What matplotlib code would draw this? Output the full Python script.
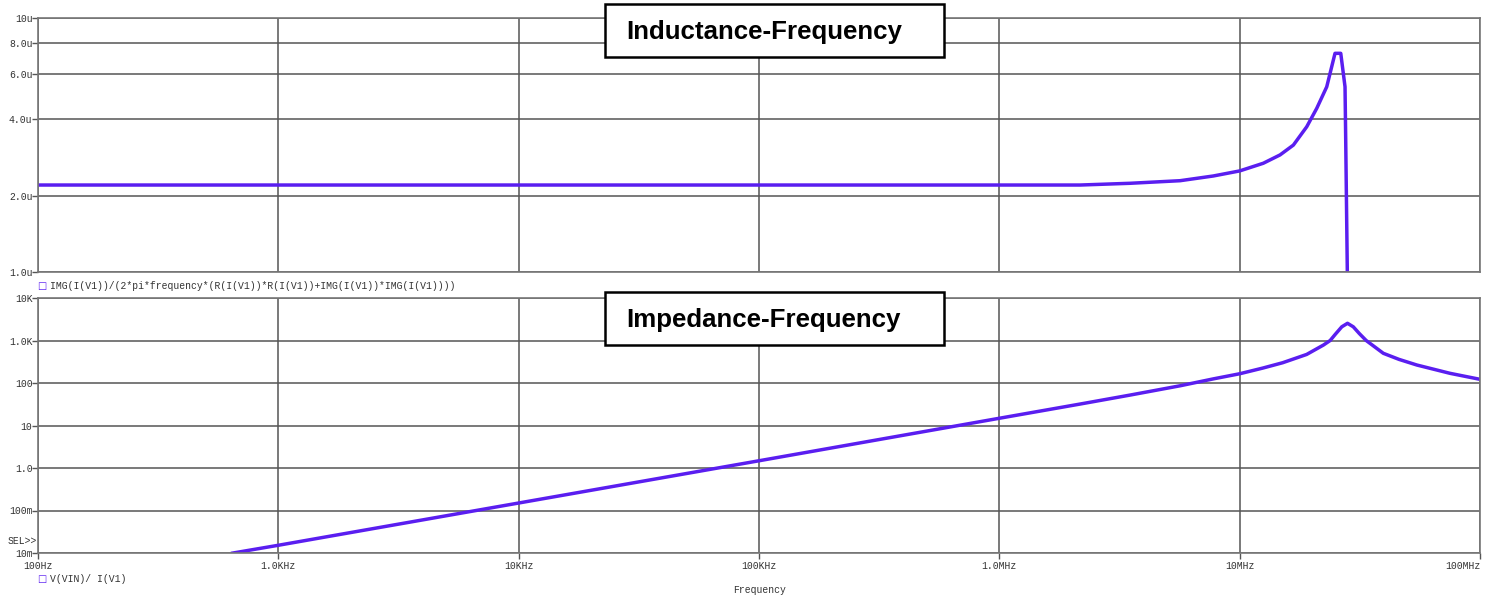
import matplotlib
matplotlib.use("Agg")
import matplotlib.pyplot as plt
from matplotlib.ticker import FixedLocator, NullLocator
from matplotlib.patches import Rectangle

# ---- data ----
ind_freq = [100, 1e3, 1e4, 1e5, 1e6, 2.17e6, 3.5e6, 5.65e6, 7.77e6, 1e7, 1.254e7,
            1.472e7, 1.673e7, 1.901e7, 2.093e7, 2.303e7, 2.493e7, 2.634e7, 2.744e7,
            2.762e7, 2.805e7]
ind_val = [2.2e-6, 2.2e-6, 2.2e-6, 2.2e-6, 2.2e-6, 2.2e-6, 2.235e-6, 2.288e-6,
           2.388e-6, 2.5e-6, 2.68e-6, 2.89e-6, 3.16e-6, 3.73e-6, 4.41e-6, 5.36e-6,
           7.26e-6, 7.26e-6, 5.36e-6, 3.31e-6, 1.0e-6]

imp_freq = [635, 1e3, 1e4, 1e5, 1e6, 2.17e6, 3.5e6, 5.65e6, 7.77e6, 1e7, 1.25e7,
            1.51e7, 1.9e7, 2.23e7, 2.38e7, 2.5e7, 2.66e7, 2.81e7, 2.97e7, 3.15e7,
            3.36e7, 3.96e7, 4.6e7, 5.46e7, 7.5e7, 1e8]
imp_val = [0.0098, 0.0152, 0.15, 1.48, 14.8, 32, 52, 86, 125, 165, 225, 300, 470,
           780, 1000, 1400, 2100, 2540, 2100, 1450, 1000, 500, 360, 265, 169, 122]

ind_ticks = [1e-6, 2e-6, 4e-6, 6e-6, 8e-6, 1e-5]
ind_ticklabels = ["1.0u", "2.0u", "4.0u", "6.0u", "8.0u", "10u"]
imp_ticks = [1e-2, 1e-1, 1, 10, 100, 1e3, 1e4]
imp_ticklabels = ["10m", "100m", "1.0", "10", "100", "1.0K", "10K"]
freq_ticks = [1e2, 1e3, 1e4, 1e5, 1e6, 1e7, 1e8]
freq_ticklabels = ["100Hz", "1.0KHz", "10KHz", "100KHz", "1.0MHz", "10MHz", "100MHz"]

title_top = "Inductance-Frequency"
title_bot = "Impedance-Frequency"
legend_top = "IMG(I(V1))/(2*pi*frequency*(R(I(V1))*R(I(V1))+IMG(I(V1))*IMG(I(V1))))"
legend_bot = "V(VIN)/ I(V1)"

# ---- styling ----
W, H = 1494, 598
LINE = "#5a1ef0"
GRID = "#555555"
MONO = "Liberation Mono"
TXT = "#333333"

fig = plt.figure(figsize=(W / 100, H / 100), dpi=100)

def px(x0, y0, x1, y1):
    return [x0 / W, 1 - y1 / H, (x1 - x0) / W, (y1 - y0) / H]

ax1 = fig.add_axes(px(38, 18, 1480, 272))
ax2 = fig.add_axes(px(38, 298, 1480, 553))

for ax in (ax1, ax2):
    ax.set_xscale("log")
    ax.set_yscale("log")
    ax.set_xlim(1e2, 1e8)
    ax.xaxis.set_major_locator(FixedLocator(freq_ticks))
    ax.xaxis.set_minor_locator(NullLocator())
    ax.yaxis.set_minor_locator(NullLocator())
    ax.grid(True, which="major", color=GRID, linewidth=1.1)
    for s in ax.spines.values():
        s.set_color("#777777")
        s.set_linewidth(1.2)
    ax.tick_params(axis="y", direction="out", length=4, width=1, color="#555555",
                   labelsize=7, labelcolor=TXT, pad=0)
    ax.tick_params(axis="x", direction="out", length=4, width=1, color="#555555",
                   labelsize=7, labelcolor=TXT, pad=2)
    ax.set_axisbelow(True)

ax1.set_ylim(1e-6, 1e-5)
ax1.yaxis.set_major_locator(FixedLocator(ind_ticks))
ax1.set_yticklabels(ind_ticklabels, family=MONO)
ax1.tick_params(axis="x", labelbottom=False, length=0)
ax1.plot(ind_freq, ind_val, color=LINE, linewidth=2.5, solid_joinstyle="round",
         solid_capstyle="butt")

ax2.set_ylim(1e-2, 1e4)
ax2.yaxis.set_major_locator(FixedLocator(imp_ticks))
ax2.set_yticklabels(imp_ticklabels, family=MONO)
ax2.set_xticklabels(freq_ticklabels, family=MONO)
ax2.get_xticklabels()[-1].set_ha("right")
ax2.plot(imp_freq, imp_val, color=LINE, linewidth=2.5, solid_joinstyle="round",
         solid_capstyle="butt")

# title boxes
for (y0, y1) in ((4, 57), (292, 345)):
    fig.patches.append(Rectangle((605 / W, 1 - y1 / H), (944 - 605) / W, (y1 - y0) / H,
                                 transform=fig.transFigure, fc="white", ec="black",
                                 lw=1.8, zorder=2))
fig.text(626 / W, 1 - 32 / H, title_top, fontsize=18.6, fontweight="bold",
         family="Liberation Sans", va="center", ha="left", zorder=3)
fig.text(626 / W, 1 - 320 / H, title_bot, fontsize=18.6, fontweight="bold",
         family="Liberation Sans", va="center", ha="left", zorder=3)

# legends
fig.text(42 / W, 1 - 286 / H, "\u25a1", fontsize=7, color=LINE, va="center", ha="center",
         family="DejaVu Sans")
fig.text(50 / W, 1 - 286 / H, legend_top, fontsize=7, color=TXT, va="center",
         ha="left", family=MONO)
fig.text(42 / W, 1 - 579 / H, "\u25a1", fontsize=7, color=LINE, va="center", ha="center",
         family="DejaVu Sans")
fig.text(50 / W, 1 - 579 / H, legend_bot, fontsize=7, color=TXT, va="center",
         ha="left", family=MONO)
fig.text(8 / W, 1 - 541 / H, "SEL>>", fontsize=7, color=TXT, va="center",
         ha="left", family=MONO)
fig.text(760 / W, 1 - 590 / H, "Frequency", fontsize=7, color=TXT, va="center",
         ha="center", family=MONO)

fig.savefig("out.png", dpi=100, facecolor="white")
